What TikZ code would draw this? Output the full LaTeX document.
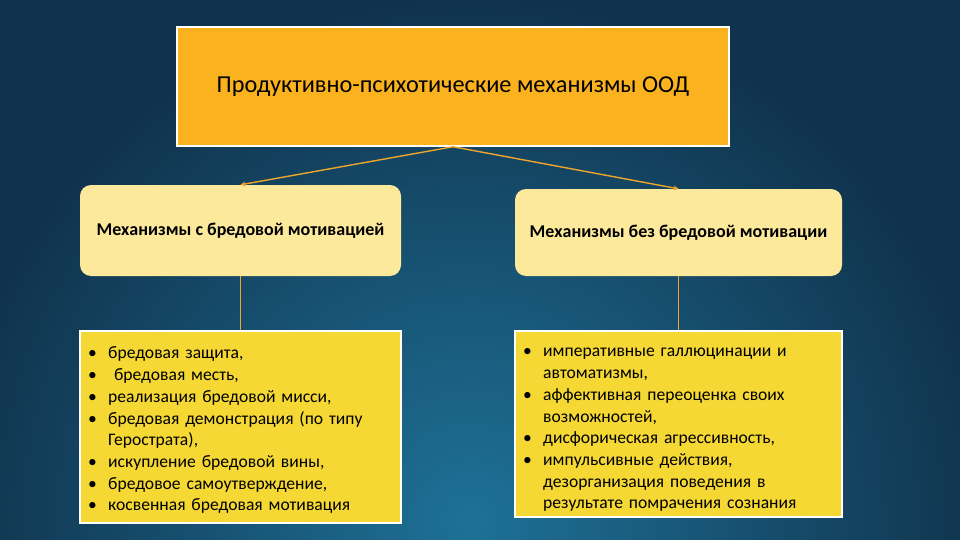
\documentclass[tikz,border=0pt]{standalone}
\usepackage{fontspec}
\setmainfont{Carlito}
\usetikzlibrary{arrows.meta}
\definecolor{bgdark}{HTML}{10334D}
\definecolor{bglight}{HTML}{1E7197}
\definecolor{topfill}{HTML}{FBB21F}
\definecolor{midfill}{HTML}{FCE99B}
\definecolor{botfill}{HTML}{F5D834}
\definecolor{linecol}{HTML}{EFA52A}
\newcommand\bitem{\par\noindent\hangindent=20pt\hangafter=1\makebox[20pt][l]{\textbullet}}
\newcommand\listfont{\fontsize{17.6}{21.7}\selectfont\spaceskip=0.22em plus 0.05em}
\tikzset{
  topbox/.style={draw=white, line width=1.5pt, fill=topfill, minimum width=552pt, minimum height=119pt, inner sep=0pt, font=\fontsize{24.3}{28}\selectfont},
  midbox/.style={draw=none, fill=midfill, rounded corners=11pt, inner sep=0pt, font=\fontsize{18}{21}\selectfont\bfseries},
  botbox/.style={draw=white, line width=1.2pt, fill=botfill, inner sep=0pt},
  listtext/.style={anchor=north west, inner sep=0pt, align=left, font=\listfont},
  conn/.style={draw=linecol, line width=1.4pt, -{Stealth[length=5pt,width=5pt]}},
  vline/.style={draw=linecol, line width=1.4pt}
}
\begin{document}
\begin{tikzpicture}[x=1pt,y=-1pt]
\useasboundingbox (0,0) rectangle (960,540);
\fill[bgdark] (0,0) rectangle (960,540);
\begin{scope}
\clip (0,0) rectangle (960,540);
\shade[inner color=bglight, outer color=bgdark] (470,520) circle (520);
\end{scope}
% top
\node[topbox] (top) at (453,86.5) {Продуктивно-психотические механизмы ООД};
% middle
\node[midbox, minimum width=321pt, minimum height=91pt] (lm) at (240.5,230.5) {Механизмы с бредовой мотивацией};
\node[midbox, minimum width=327pt, minimum height=87pt] (rm) at (678.5,232.5) {Механизмы без бредовой мотивации};
% bottom
\node[botbox, minimum width=321pt, minimum height=192pt] (lb) at (240.5,427) {};
\node[botbox, minimum width=327pt, minimum height=186pt] (rb) at (678.5,424) {};
\node[listtext, text width=305pt] (lt) at (88,337) {%
\bitem бредовая защита,
\bitem\ бредовая месть,
\bitem реализация бредовой мисси,
\bitem бредовая демонстрация (по типу\newline Герострата),
\bitem искупление бредовой вины,
\bitem бредовое самоутверждение,
\bitem косвенная бредовая мотивация\par};
\node[listtext, text width=312pt] (rt) at (523,335) {%
\bitem императивные галлюцинации и\newline автоматизмы,
\bitem аффективная переоценка своих\newline возможностей,
\bitem дисфорическая агрессивность,
\bitem импульсивные действия,\newline дезорганизация поведения в\newline результате помрачения сознания\par};
% connectors
\draw[conn] (top.south) -- (lm.north);
\draw[conn] (top.south) -- (rm.north);
\draw[vline] (lm.south) -- (lb.north);
\draw[vline] (rm.south) -- (rb.north);
\end{tikzpicture}
\end{document}
